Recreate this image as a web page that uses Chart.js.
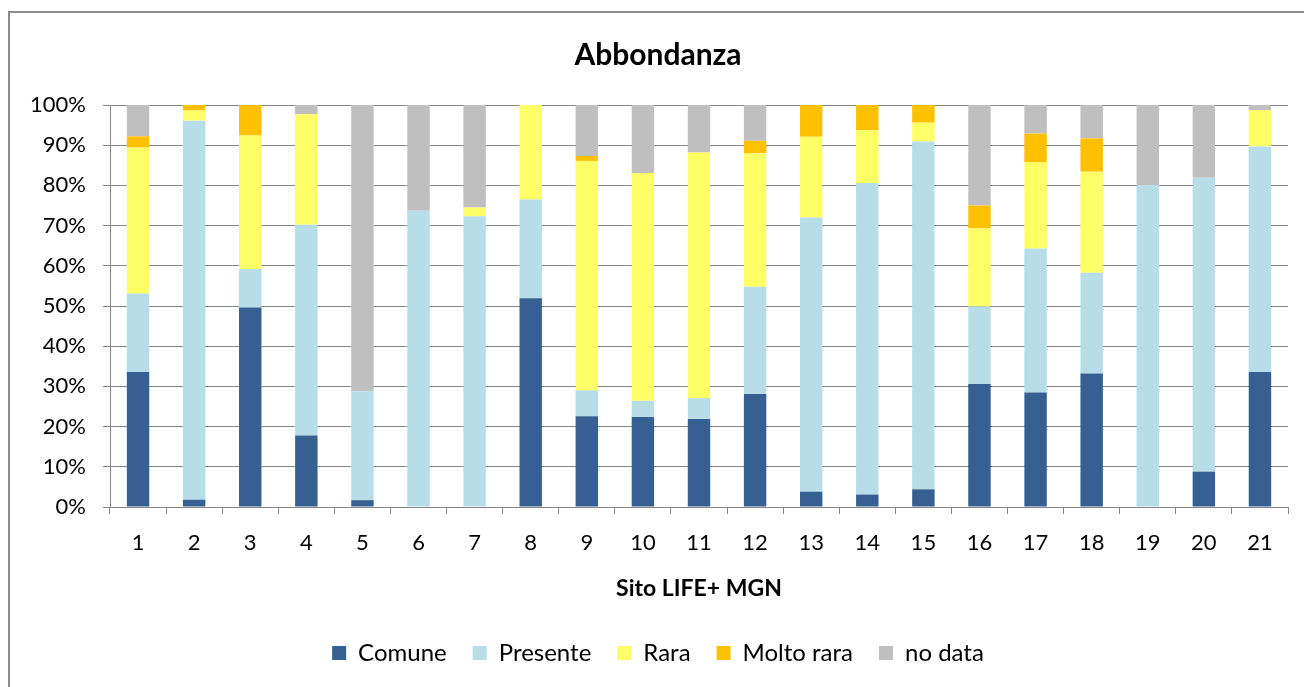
<!DOCTYPE html>
<html>
<head>
<meta charset="utf-8">
<script src="https://cdn.jsdelivr.net/npm/chart.js@4.4.1/dist/chart.umd.min.js"></script>
<style>
    body { margin: 0; background: #ffffff; }
    #wrap { position: relative; width: 1304px; height: 687px; }
</style>
</head>
<body>
<div id="wrap"><canvas id="chart"></canvas></div>
<script>
// Siti e percentuali
const siti = ['1', '2', '3', '4', '5', '6', '7', '8', '9', '10', '11', '12', '13', '14', '15', '16', '17', '18', '19', '20', '21'];
const comune = [33.6, 1.8, 49.6, 17.8, 1.7, 0, 0, 51.9, 22.6, 22.4, 21.9, 28.1, 3.8, 3.1, 4.4, 30.6, 28.5, 33.2, 0, 8.8, 33.6];
const presente = [19.5, 94.3, 9.6, 52.4, 27.1, 73.7, 72.3, 24.6, 6.4, 4.0, 5.2, 26.7, 68.2, 77.5, 86.5, 19.3, 35.8, 25.1, 80.1, 73.1, 56.1];
const rara = [36.3, 2.5, 33.2, 27.5, 0, 0, 2.2, 23.5, 57.1, 56.7, 61.1, 33.2, 20.1, 13.1, 4.7, 19.4, 21.5, 25.1, 0, 0, 9.0];
const moltoRara = [2.8, 1.4, 7.6, 0, 0, 0, 0, 0, 1.2, 0, 0, 3.1, 7.9, 6.3, 4.4, 5.7, 7.1, 8.3, 0, 0, 0];
const noData = [7.8, 0, 0, 2.3, 71.2, 26.3, 25.5, 0, 12.7, 16.9, 11.8, 8.9, 0, 0, 0, 25.0, 7.1, 8.3, 19.9, 18.1, 1.3];

const font = 'Lato, "Open Sans", sans-serif';
const gridColor = '#878787';

// Cornice esterna del grafico
const frame = {
    id: 'frame',
    beforeDraw(chart) {
        const ctx = chart.ctx;
        ctx.save();
        ctx.strokeStyle = '#8c8c8c';
        ctx.lineWidth = 2;
        ctx.strokeRect(9, 12, 1400, 800);
        ctx.restore();
    }
};

function serie(label, data, color) {
    return {
        label: label,
        data: data,
        backgroundColor: color,
        borderWidth: 0,
        categoryPercentage: 0.4,
        barPercentage: 1
    };
}

new Chart(document.getElementById('chart'), {
    type: 'bar',
    data: {
        labels: siti,
        datasets: [
            serie('Comune', comune, '#366092'),
            serie('Presente', presente, '#b7dde8'),
            serie('Rara', rara, '#ffff66'),
            serie('Molto rara', moltoRara, '#ffc000'),
            serie('no data', noData, '#bfbfbf')
        ]
    },
    options: {
        responsive: true,
        maintainAspectRatio: false,
        animation: false,
        layout: { padding: { top: 20, left: 28, right: 16, bottom: 12 } },
        plugins: {
            title: {
                display: true,
                text: 'Abbondanza',
                color: '#000000',
                font: { family: font, size: 30, weight: 'bold' },
                padding: { top: 17, bottom: 32 }
            },
            legend: {
                position: 'bottom',
                labels: {
                    color: '#000000',
                    font: { family: font, size: 24 },
                    boxWidth: 14,
                    boxHeight: 14,
                    padding: 26
                }
            },
            tooltip: { enabled: false }
        },
        scales: {
            x: {
                stacked: true,
                border: { color: gridColor, width: 1 },
                grid: { drawOnChartArea: false, color: gridColor, tickLength: 7, offset: true },
                ticks: { color: '#000000', font: { family: font, size: 22 }, padding: 16, maxRotation: 0 },
                title: {
                    display: true,
                    text: 'Sito LIFE+ MGN',
                    color: '#000000',
                    font: { family: font, size: 23, weight: 'bold' },
                    padding: { top: 2, bottom: 13 }
                }
            },
            y: {
                stacked: true,
                min: 0,
                max: 100,
                afterFit: function (scale) { scale.width = 82; },
                border: { color: gridColor, width: 1 },
                grid: { color: gridColor, lineWidth: 1, tickLength: 7 },
                ticks: {
                    stepSize: 10,
                    color: '#000000',
                    font: { family: font, size: 22 },
                    padding: 17,
                    callback: function (v) { return v + '%'; }
                }
            }
        }
    },
    plugins: [frame]
});
</script>
</body>
</html>
